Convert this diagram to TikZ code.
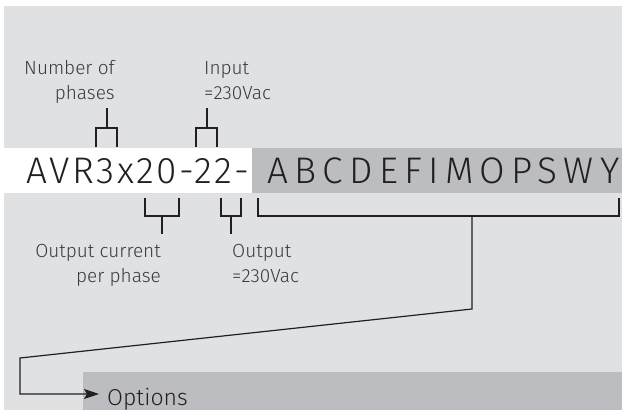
\documentclass[tikz,border=0pt]{standalone}
\usepackage{fontspec}
\setmainfont{Fira Sans Light}
\usetikzlibrary{arrows.meta}
\definecolor{bglight}{HTML}{E0E1E3}
\definecolor{bgdark}{HTML}{BCBDC0}
\definecolor{ink}{HTML}{231F20}
\definecolor{labelink}{HTML}{3A3A3C}
\begin{document}
\begin{tikzpicture}[x=1pt,y=-1pt,
  labeltext/.style={font=\fontsize{19}{25}\selectfont, text=labelink, inner sep=0pt},
  codetext/.style={font=\fontsize{37}{40}\selectfont\addfontfeature{LetterSpace=#1}, text=ink, inner sep=0pt},
  bracket/.style={draw=ink, line width=1.5pt},
  conn/.style={draw=ink, line width=1.2pt}]
\useasboundingbox (0,0) rectangle (622,410);
\fill[white] (0,0) rectangle (622,410);
\fill[bglight] (4,6) rectangle (622,410);
\fill[white] (4,148) rectangle (252,193);
\fill[bgdark] (252,148) rectangle (622,193);
\fill[bgdark] (83,372) rectangle (622,410);

% code strings
\node[codetext=7, anchor=base west] (model) at (26,183) {AVR3x20-22-};
\node[codetext=17, anchor=base west] (optcodes) at (267,183) {ABCDEFIMOPSWY};

% labels (base anchor = last line baseline)
\node[labeltext, align=right, anchor=base east] (phases) at (115,99) {Number of\\phases};
\node[labeltext, align=left, anchor=base west] (input) at (204,99) {Input\\=230Vac};
\node[labeltext, align=right, anchor=base east] (current) at (161,282) {Output current\\per phase};
\node[labeltext, align=left, anchor=base west] (output) at (232,282) {Output\\=230Vac};
\node[font=\fontsize{23}{28}\selectfont, text=ink, inner sep=0pt, anchor=base west] (options) at (107,405) {Options};

% bracket coordinates
\coordinate (t1) at (107,128); \coordinate (t1s) at (107,108);
\coordinate (t2) at (207,128); \coordinate (t2s) at (207,108);
\coordinate (b1) at (162,216); \coordinate (b1s) at (162,234);
\coordinate (b2) at (231,216); \coordinate (b2s) at (231,234);
\coordinate (b3) at (472,216); \coordinate (b3k) at (472,309);
\coordinate (k1) at (20,358); \coordinate (k2) at (20,394);

% top brackets
\draw[bracket] (96,147) -- (96,128) -- (117,128) -- (117,147);
\draw[bracket] (t1) -- (t1s);
\draw[bracket] (196,147) -- (196,128) -- (217,128) -- (217,147);
\draw[bracket] (t2) -- (t2s);
% bottom brackets
\draw[bracket] (145,198) -- (145,216) -- (179,216) -- (179,198);
\draw[bracket] (b1) -- (b1s);
\draw[bracket] (221,198) -- (221,216) -- (241,216) -- (241,198);
\draw[bracket] (b2) -- (b2s);
\draw[bracket] (258,198) -- (258,216) -- (619,216) -- (619,198);
% connector to options
\draw[conn, -{Stealth[length=15pt,width=10pt,inset=3pt]}] (b3) -- (b3k) -- (k1) -- (k2) -- ([xshift=-8pt]options.west |- k2);
\end{tikzpicture}
\end{document}
